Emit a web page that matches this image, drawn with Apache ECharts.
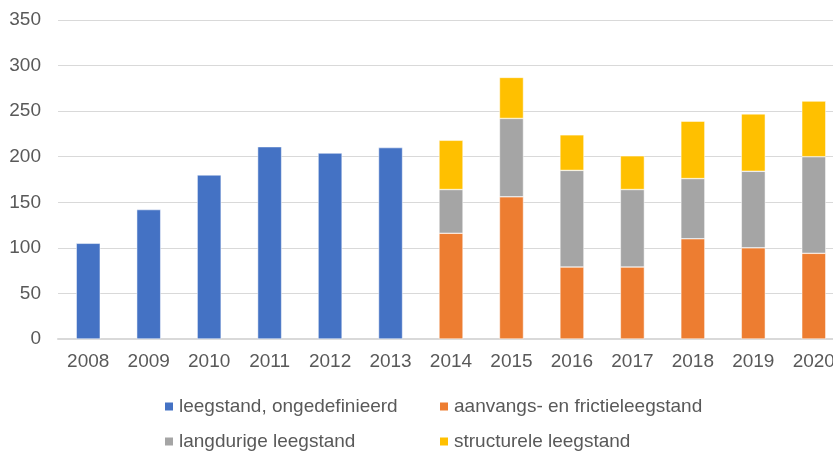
<!DOCTYPE html>
<html>
<head>
<meta charset="utf-8">
<script src="https://cdn.jsdelivr.net/npm/echarts@6/dist/echarts.min.js"></script>
<style>
  html, body { margin: 0; padding: 0; background: #fff; overflow: hidden; }
  /* the plot runs slightly past the right edge of the window */
  #chart { width: 846px; height: 454px; }
</style>
</head>
<body>
<div id="chart"></div>
<script>
// Vacancy per year, split by type (2008-2013 only as a total)
const years = ['2008','2009','2010','2011','2012','2013','2014','2015','2016','2017','2018','2019','2020'];
const undefinedVacancy  = [105, 142, 180, 211, 204, 210, null, null, null, null, null, null, null];
const initialVacancy    = [null, null, null, null, null, null, 116, 156, 79, 79, 110, 100, 94];
const longTermVacancy   = [null, null, null, null, null, null, 48, 86, 106, 85, 66, 84, 106];
const structuralVacancy = [null, null, null, null, null, null, 54, 45, 39, 37, 63, 63, 61];
const yTicks = [0, 50, 100, 150, 200, 250, 300, 350];

const seriesNames = [
  'leegstand, ongedefinieerd',
  'aanvangs- en frictieleegstand',
  'langdurige leegstand',
  'structurele leegstand'
];
const seriesColors = ['#4472C4', '#ED7D31', '#A5A5A5', '#FFC000'];
const seriesData = [undefinedVacancy, initialVacancy, longTermVacancy, structuralVacancy];

const font = '"Liberation Sans", Arial, sans-serif';
const textColor = '#595959';

const chart = echarts.init(document.getElementById('chart'), null, { renderer: 'canvas' });

// legend laid out as a 2x2 grid: one legend component per entry
const legendSlots = [
  { name: seriesNames[0], left: 163, top: 397 },
  { name: seriesNames[1], left: 438, top: 397 },
  { name: seriesNames[2], left: 163, top: 432 },
  { name: seriesNames[3], left: 438, top: 432 }
];

chart.setOption({
  animation: false,
  grid: { left: 58, top: 20, right: 2, bottom: 115, containLabel: false },
  legend: legendSlots.map(s => ({
    data: [s.name],
    left: s.left,
    top: s.top,
    icon: 'rect',
    itemWidth: 10,
    itemHeight: 10,
    padding: 0,
    textStyle: { color: textColor, fontSize: 19, fontFamily: font }
  })),
  xAxis: {
    type: 'category',
    data: years,
    axisLine: { lineStyle: { color: '#D9D9D9', width: 2 } },
    axisTick: { show: false },
    axisLabel: { color: textColor, fontSize: 19, fontFamily: font, margin: 13 }
  },
  yAxis: {
    type: 'value',
    min: yTicks[0],
    max: yTicks[yTicks.length - 1],
    interval: 50,
    axisLine: { show: false },
    axisTick: { show: false },
    splitLine: { lineStyle: { color: '#D9D9D9', width: 1 } },
    axisLabel: { color: textColor, fontSize: 19, fontFamily: font, margin: 17 }
  },
  series: seriesNames.map((name, i) => ({
    name: name,
    type: 'bar',
    stack: 'total',
    barWidth: 24,
    data: seriesData[i],
    itemStyle: { color: seriesColors[i], borderColor: '#ffffff', borderWidth: 0.5 }
  }))
});
</script>
</body>
</html>
